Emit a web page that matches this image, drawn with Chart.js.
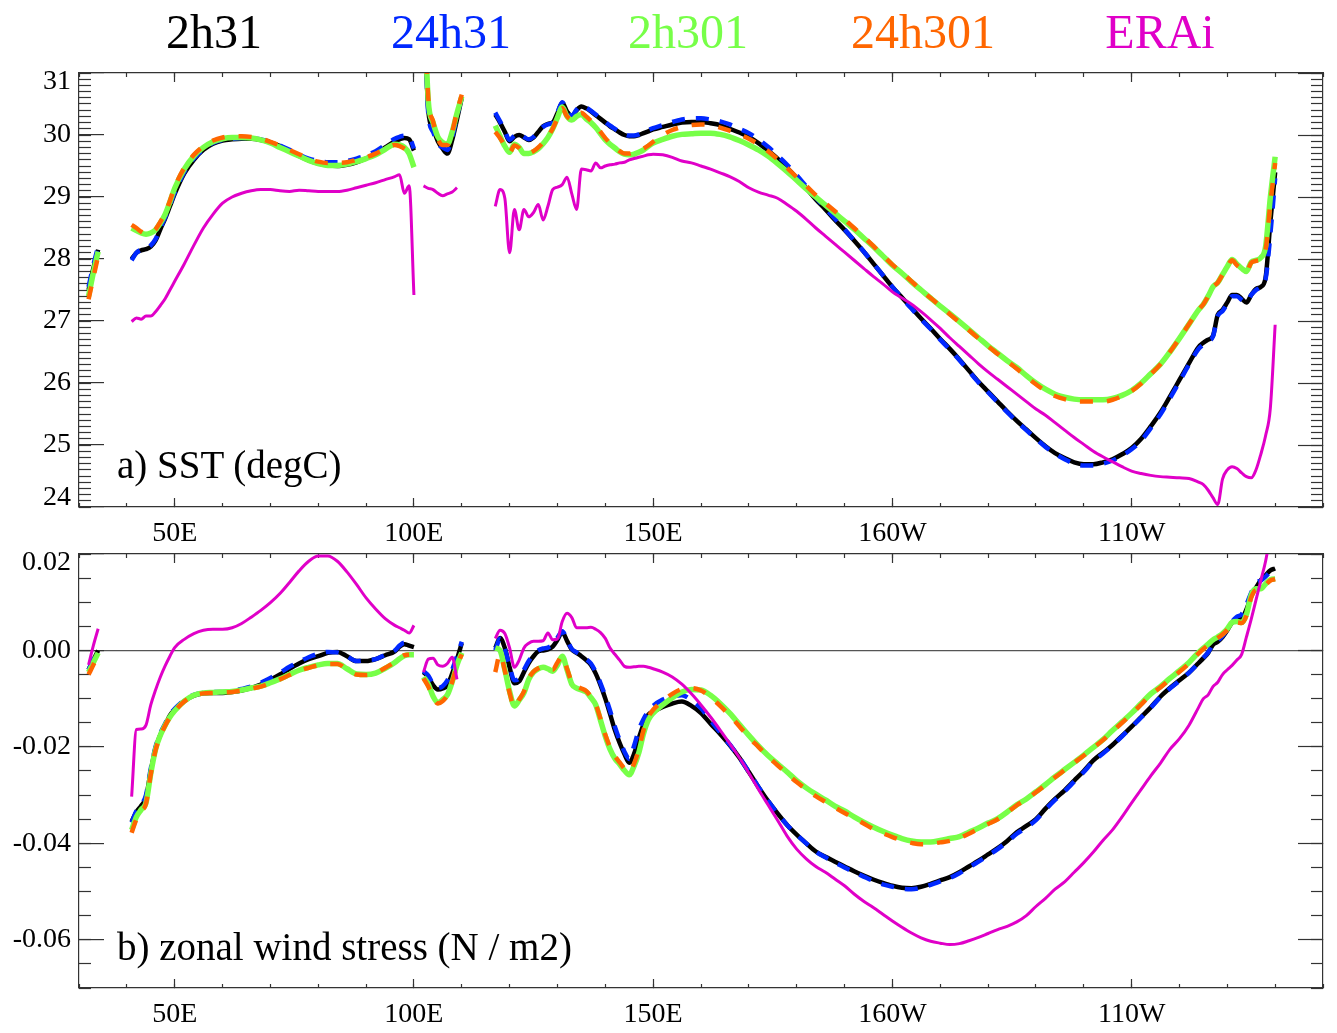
<!DOCTYPE html>
<html>
<head>
<meta charset="utf-8">
<title>SST and zonal wind stress along the equator</title>
<script src="https://cdn.jsdelivr.net/npm/chart.js@4.4.1/dist/chart.umd.min.js"></script>
<style>
  body { margin: 0; background: #fff; }
  #page { position: relative; width: 1337px; height: 1033px; overflow: hidden;
          font-family: "Liberation Serif", "Times New Roman", serif; }
  canvas { position: absolute; left: 0; }
  .key { position: absolute; top: 8px; font-size: 48px; line-height: 48px;
         transform: translateX(-50%); white-space: nowrap; }
  .tag { position: absolute; left: 117px; font-size: 39px; line-height: 39px;
         white-space: nowrap; color: #000; }
</style>
</head>
<body>
<div id="page">
  <canvas id="sst" width="1337" height="550" style="top:0"></canvas>
  <canvas id="taux" width="1337" height="483" style="top:550px"></canvas>
  <div class="tag" style="top:445px">a) SST (degC)</div>
  <div class="tag" style="top:927px">b) zonal wind stress (N / m2)</div>
  <div id="keys"></div>
</div>
<script>
// longitude (deg E); the null rows break the lines over land
var lon = [
  32, 33, 34, 35,
  41, 42, 43, 44, 45, 46, 47, 48, 49, 50,
  52, 54, 56, 58, 60, 62, 64, 66, 68, 70,
  72, 74, 76, 78, 80, 82, 84, 86, 88, 90,
  92, 94, 96, 97, 98, 99, 100, 101,
  102, 103, 104, 105, 106, 107, 108, 109, 110, 113,
  117, 118, 119, 120, 121, 122, 123, 124, 125, 126,
  127, 128, 129, 130, 131, 132, 133, 134, 135, 136,
  137, 138, 139, 140, 141, 142, 143, 144, 145, 146,
  147, 148, 149, 150,
  152, 154, 156, 158, 160, 162, 164, 166, 168, 170,
  172, 174, 176, 178, 180, 182, 184, 186, 188, 190,
  192, 194, 196, 198, 200, 202, 204, 206, 208, 210,
  212, 214, 216, 218, 220, 222, 224, 226, 228, 230,
  232, 234, 236, 238, 240, 242, 244, 246, 248, 250,
  252, 254, 256, 258, 260, 262, 264,
  265, 266, 267, 268, 269, 270, 271, 272, 273, 274, 275, 276, 277, 278, 279, 280
];

var runs = ['2h31', '24h31', '2h301', '24h301', 'ERAi'];

// SST (degC)
var sst2h31 = [
  27.5, 27.85, 28.15, null,
  28.0, 28.1, 28.14, 28.16, 28.2, 28.3, 28.48, 28.65, 28.85, 29.05,
  29.38, 29.6, 29.76, 29.86, 29.91, 29.93, 29.94, 29.94, 29.92, 29.88,
  29.82, 29.74, 29.66, 29.59, 29.54, 29.51, 29.5, 29.52, 29.56, 29.62,
  29.7, 29.8, 29.9, 29.93, 29.95, 29.93, 29.75, null,
  32.5, 30.4, 30.1, 29.9, 29.78, 29.7, 29.92, 30.25, 30.6, null,
  30.33, 30.2, 30.05, 29.9, 29.97, 30.0, 29.96, 29.92, 29.96, 30.05,
  30.14, 30.18, 30.2, 30.35, 30.52, 30.38, 30.3, 30.4, 30.46, 30.43,
  30.38, 30.32, 30.26, 30.2, 30.14, 30.09, 30.04, 30.0, 29.98, 29.98,
  30.0, 30.03, 30.06, 30.09,
  30.13, 30.17, 30.2, 30.21, 30.21, 30.19, 30.16, 30.1, 30.04, 29.97,
  29.87, 29.75, 29.62, 29.47, 29.31, 29.14, 28.96, 28.8, 28.63, 28.47,
  28.3, 28.12, 27.93, 27.74, 27.55, 27.38, 27.21, 27.04, 26.88, 26.71,
  26.55, 26.38, 26.2, 26.02, 25.86, 25.7, 25.54, 25.39, 25.25, 25.11,
  24.98, 24.87, 24.79, 24.72, 24.69, 24.69, 24.72, 24.77, 24.85, 24.95,
  25.1, 25.3, 25.52, 25.78, 26.05, 26.32, 26.58,
  26.65, 26.7, 26.76, 27.1, 27.18, 27.3, 27.42, 27.42, 27.36, 27.3, 27.42, 27.52, 27.55, 27.7, 28.6, 29.4
];
var sst24h31 = [
  27.55, 27.9, 28.2, null,
  27.98, 28.1, 28.15, 28.17, 28.22, 28.32, 28.5, 28.67, 28.87, 29.07,
  29.4, 29.62, 29.77, 29.87, 29.92, 29.94, 29.95, 29.95, 29.93, 29.89,
  29.83, 29.76, 29.68, 29.62, 29.58, 29.56, 29.56, 29.58, 29.62, 29.67,
  29.74, 29.84, 29.94, 29.97, 29.99, 29.97, 29.78, null,
  32.5, 30.35, 30.05, 29.86, 29.8, 29.76, 29.96, 30.3, 30.62, null,
  30.36, 30.22, 30.06, 29.92, 29.99, 30.02, 29.97, 29.93, 29.97, 30.06,
  30.13, 30.17, 30.2, 30.36, 30.53, 30.38, 30.31, 30.41, 30.47, 30.44,
  30.39, 30.33, 30.27, 30.21, 30.15, 30.1, 30.05, 30.01, 29.99, 29.99,
  30.01, 30.05, 30.08, 30.11,
  30.16, 30.21, 30.25, 30.27, 30.27, 30.25, 30.22, 30.17, 30.1, 30.03,
  29.93, 29.81, 29.67, 29.52, 29.35, 29.17, 28.99, 28.82, 28.65, 28.48,
  28.3, 28.12, 27.93, 27.74, 27.55, 27.37, 27.2, 27.03, 26.87, 26.7,
  26.54, 26.37, 26.19, 26.01, 25.85, 25.69, 25.53, 25.38, 25.24, 25.1,
  24.97, 24.86, 24.77, 24.7, 24.67, 24.67, 24.7, 24.75, 24.83, 24.93,
  25.07, 25.27, 25.49, 25.75, 26.02, 26.3, 26.55,
  26.62, 26.68, 26.75, 27.08, 27.16, 27.28, 27.4, 27.4, 27.34, 27.3, 27.42, 27.5, 27.55, 27.68, 28.4, 29.3
];
var sst2h301 = [
  27.4, 27.78, 28.12, null,
  28.5, 28.46, 28.42, 28.4, 28.42, 28.47, 28.58, 28.72, 28.92, 29.14,
  29.45, 29.66, 29.8, 29.89, 29.94, 29.96, 29.96, 29.95, 29.92, 29.87,
  29.8, 29.73, 29.66, 29.59, 29.54, 29.51, 29.51, 29.53, 29.57, 29.62,
  29.68, 29.77, 29.85, 29.84, 29.8, 29.7, 29.48, null,
  32.5, 30.55, 30.2, 29.97, 29.88, 29.85, 30.05, 30.35, 30.62, null,
  30.15, 29.98, 29.82, 29.72, 29.85, 29.8, 29.7, 29.7, 29.73, 29.78,
  29.86, 29.96, 30.1, 30.28, 30.45, 30.3, 30.24, 30.3, 30.33, 30.26,
  30.2, 30.12, 30.02, 29.92, 29.85, 29.79, 29.73, 29.69, 29.68, 29.69,
  29.72, 29.76, 29.82, 29.87,
  29.93, 29.98, 30.01, 30.02, 30.03, 30.03, 30.01, 29.97, 29.91, 29.84,
  29.76, 29.66, 29.54, 29.41, 29.27, 29.13, 29.0, 28.87, 28.74, 28.61,
  28.48, 28.34, 28.2, 28.05, 27.9, 27.77, 27.63, 27.5, 27.37, 27.24,
  27.12, 26.99, 26.86, 26.73, 26.6, 26.48, 26.36, 26.25, 26.12, 26.0,
  25.9, 25.82, 25.77, 25.74, 25.73, 25.73, 25.73, 25.75, 25.8, 25.88,
  26.0, 26.15, 26.3, 26.5, 26.72, 26.95, 27.18,
  27.27, 27.4, 27.55, 27.62, 27.75, 27.88, 27.99, 27.92, 27.85, 27.8, 27.95, 27.98, 28.02, 28.2, 29.0, 29.65
];
var sst24h301 = [
  27.35, 27.7, 28.05, null,
  28.55, 28.5, 28.44, 28.41, 28.43, 28.48, 28.6, 28.74, 28.94, 29.16,
  29.47, 29.68, 29.82, 29.91, 29.96, 29.98, 29.98, 29.97, 29.94, 29.89,
  29.83, 29.76, 29.69, 29.62, 29.57, 29.55, 29.55, 29.56, 29.6, 29.64,
  29.7, 29.78, 29.84, 29.82, 29.78, 29.72, 29.62, null,
  32.5, 30.6, 30.22, 29.94, 29.84, 29.84, 30.05, 30.38, 30.65, null,
  30.05, 29.95, 29.83, 29.72, 29.83, 29.79, 29.71, 29.71, 29.74, 29.8,
  29.88, 29.98, 30.1, 30.27, 30.43, 30.3, 30.25, 30.32, 30.36, 30.3,
  30.23, 30.15, 30.05, 29.95, 29.87, 29.8, 29.74, 29.7, 29.7, 29.72,
  29.74, 29.78, 29.83, 29.89,
  30.0, 30.08, 30.13, 30.16, 30.17, 30.16, 30.12, 30.07, 30.01, 29.94,
  29.85, 29.74, 29.61, 29.47, 29.32, 29.18, 29.03, 28.9, 28.77, 28.64,
  28.5, 28.36, 28.21, 28.06, 27.91, 27.78, 27.64, 27.5, 27.37, 27.24,
  27.11, 26.98, 26.85, 26.72, 26.59, 26.47, 26.35, 26.23, 26.1, 25.98,
  25.87, 25.79, 25.74, 25.71, 25.7, 25.7, 25.7, 25.73, 25.79, 25.87,
  25.99, 26.14, 26.3, 26.5, 26.72, 26.95, 27.18,
  27.27, 27.4, 27.55, 27.62, 27.75, 27.88, 27.98, 27.9, 27.84, 27.8, 27.94, 27.97, 28.0, 28.15, 28.9, 29.55
];
var sstERAi = [
  null, null, null, null,
  26.99, 27.05, 27.03, 27.08, 27.08, 27.15, 27.25, 27.36, 27.5, 27.64,
  27.92, 28.22, 28.5, 28.72, 28.9, 29.0, 29.06, 29.1, 29.12, 29.12,
  29.1, 29.09, 29.11, 29.1, 29.09, 29.09, 29.09, 29.11, 29.15, 29.19,
  29.23, 29.28, 29.33, 29.36, 29.06, 29.18, 27.42, null,
  29.18, 29.14, 29.12, 29.06, 29.02, 29.05, 29.08, 29.15, null, null,
  28.85, 29.12, 28.98, 28.1, 28.8, 28.47, 28.8, 28.68, 28.75, 28.88,
  28.63, 28.85, 29.12, 29.16, 29.2, 29.32, 29.05, 28.8, 29.45, 29.44,
  29.42, 29.55, 29.47, 29.5, 29.52, 29.53, 29.55, 29.56, 29.6, 29.62,
  29.64, 29.66, 29.68, 29.69,
  29.68, 29.64, 29.58, 29.55, 29.5, 29.45, 29.39, 29.33, 29.25, 29.15,
  29.08, 29.03, 28.98, 28.88, 28.77, 28.64, 28.5, 28.37, 28.24, 28.11,
  27.98, 27.85, 27.72, 27.6, 27.47, 27.37, 27.27, 27.15, 27.02, 26.88,
  26.73, 26.59, 26.45, 26.31, 26.18, 26.06, 25.94, 25.82, 25.7, 25.58,
  25.48, 25.36, 25.24, 25.12, 25.01, 24.9, 24.81, 24.73, 24.65, 24.58,
  24.54, 24.51, 24.49, 24.48, 24.47, 24.46, 24.4,
  24.36, 24.27, 24.15, 24.04, 24.45, 24.6, 24.65, 24.62, 24.55, 24.49, 24.47, 24.6, 24.85, 25.15, 25.6, 26.94
];

// zonal wind stress (N/m2)
var tau2h31 = [
  -0.004, -0.002, 0.0, null,
  -0.0355, -0.0335, -0.0322, -0.0305, -0.025, -0.0203, -0.0175, -0.0155, -0.0135, -0.0123,
  -0.0105, -0.0094, -0.0089, -0.0088, -0.0088, -0.0086, -0.0083, -0.0078, -0.0071, -0.0061,
  -0.005, -0.0038, -0.0027, -0.0018, -0.0012, -0.0005, -0.0003, -0.0012, -0.0022, -0.0022,
  -0.0018, -0.001, -0.0002, 0.0008, 0.0013, 0.001, 0.0007, null,
  -0.0045, -0.0055, -0.0072, -0.0081, -0.0079, -0.0072, -0.0048, -0.0018, 0.0015, null,
  0.0005, 0.0026, 0.0005, -0.0035, -0.0068, -0.0064, -0.0045, -0.0026, -0.0012, -0.0002,
  0.0, 0.0002, 0.0008, 0.0022, 0.0038, 0.002, 0.0002, -0.0005, -0.0012, -0.002,
  -0.003, -0.0048, -0.0072, -0.01, -0.0132, -0.0165, -0.0192, -0.0215, -0.0233, -0.0215,
  -0.0182, -0.0153, -0.0133, -0.0127,
  -0.0117, -0.011, -0.0106, -0.0115, -0.013, -0.0152, -0.0173, -0.0196, -0.0222, -0.0252,
  -0.0283, -0.0312, -0.0338, -0.0362, -0.0382, -0.04, -0.0417, -0.0428, -0.0438, -0.0448,
  -0.0458, -0.0467, -0.0475, -0.0482, -0.0488, -0.0492, -0.0493, -0.049, -0.0484, -0.0477,
  -0.047, -0.046, -0.0448, -0.0436, -0.0423, -0.041, -0.0395, -0.0377, -0.0364, -0.035,
  -0.0328, -0.0308, -0.029, -0.027, -0.025, -0.0228, -0.0212, -0.0196, -0.0177, -0.0158,
  -0.0138, -0.0118, -0.0096, -0.0078, -0.0062, -0.0046, -0.0026,
  -0.0016, -0.0005, 0.0012, 0.0018, 0.0028, 0.0042, 0.0058, 0.0066, 0.0067, 0.0085, 0.0112, 0.013, 0.0146, 0.0156, 0.0166, 0.017
];
var tau24h31 = [
  -0.004, -0.0018, -0.0002, null,
  -0.0357, -0.0333, -0.032, -0.03, -0.0245, -0.02, -0.0172, -0.0152, -0.0133, -0.0121,
  -0.0103, -0.0092, -0.0088, -0.0086, -0.0086, -0.0084, -0.008, -0.0075, -0.0067, -0.0057,
  -0.0046, -0.0034, -0.0024, -0.0014, -0.0007, -0.0003, -0.0004, -0.0012, -0.0022, -0.002,
  -0.0018, -0.0009, 0.0, 0.001, 0.0016, 0.0012, 0.0008, null,
  -0.0043, -0.0052, -0.007, -0.0078, -0.0074, -0.0062, -0.004, -0.0012, 0.0018, null,
  0.0, 0.0024, 0.0003, -0.0033, -0.0062, -0.0058, -0.004, -0.0022, -0.0008, 0.0,
  0.0004, 0.0006, 0.0012, 0.0026, 0.004, 0.0022, 0.0003, -0.0004, -0.001, -0.0018,
  -0.0027, -0.0045, -0.0068, -0.0095, -0.0125, -0.0158, -0.0186, -0.021, -0.0225, -0.0198,
  -0.0165, -0.0142, -0.0126, -0.0115,
  -0.0102, -0.0095, -0.0093, -0.0103, -0.012, -0.0145, -0.017, -0.0195, -0.0222, -0.0252,
  -0.0283, -0.0312, -0.0338, -0.0362, -0.0382, -0.04, -0.0417, -0.0429, -0.044, -0.045,
  -0.046, -0.0469, -0.0478, -0.0485, -0.049, -0.0494, -0.0495, -0.0492, -0.0486, -0.0479,
  -0.0472, -0.0462, -0.045, -0.0438, -0.0425, -0.0412, -0.0397, -0.038, -0.0367, -0.0352,
  -0.033, -0.031, -0.0292, -0.0272, -0.0252, -0.023, -0.0214, -0.0197, -0.0178, -0.0159,
  -0.0139, -0.0119, -0.0097, -0.0079, -0.0063, -0.0046, -0.0026,
  -0.0015, -0.0004, 0.0013, 0.002, 0.003, 0.0044, 0.006, 0.007, 0.0075, 0.0095, 0.012, 0.014, 0.0145, 0.0153, 0.0163, 0.0168
];
var tau2h301 = [
  -0.0045, -0.0025, -0.0005, null,
  -0.0372, -0.0345, -0.033, -0.0316, -0.0255, -0.0205, -0.0176, -0.0155, -0.0138, -0.0125,
  -0.0105, -0.0093, -0.0088, -0.0087, -0.0086, -0.0085, -0.0082, -0.0078, -0.0074, -0.0067,
  -0.0059, -0.005, -0.0041, -0.0035, -0.003, -0.0027, -0.0027, -0.0038, -0.0049, -0.005,
  -0.0047, -0.0037, -0.0025, -0.0017, -0.0011, -0.0009, -0.0009, null,
  -0.0055, -0.007, -0.0095, -0.0108, -0.0102, -0.0092, -0.0065, -0.003, -0.0005, null,
  0.0005, 0.0, -0.004, -0.0085, -0.0115, -0.0103, -0.0088, -0.006, -0.0045, -0.0038,
  -0.0035, -0.0038, -0.0043, -0.003, -0.0012, -0.004, -0.007, -0.0078, -0.0082, -0.0086,
  -0.0098, -0.0113, -0.0145, -0.0178, -0.0205, -0.0224, -0.0236, -0.0249, -0.0258, -0.024,
  -0.0212, -0.0172, -0.0144, -0.013,
  -0.0113, -0.0098, -0.0086, -0.0081, -0.0082, -0.0093, -0.011, -0.013, -0.0153, -0.0176,
  -0.0198, -0.0218, -0.0235, -0.0252, -0.027, -0.0285, -0.0298, -0.031, -0.0323, -0.0333,
  -0.0345, -0.0356, -0.0366, -0.0375, -0.0383, -0.039, -0.0395, -0.0397, -0.0397, -0.0394,
  -0.039, -0.0386, -0.0377, -0.0368, -0.0358, -0.0349, -0.0335, -0.032, -0.0308, -0.0293,
  -0.0278, -0.0262, -0.0247, -0.0232, -0.0217, -0.0201, -0.0185, -0.0166, -0.0148, -0.013,
  -0.011, -0.009, -0.0075, -0.0058, -0.0042, -0.0025, -0.0004,
  0.0005, 0.0013, 0.0022, 0.0028, 0.0035, 0.0045, 0.0058, 0.006, 0.0058, 0.0075, 0.0115, 0.0128, 0.0128, 0.0138, 0.0147, 0.0148
];
var tau24h301 = [
  -0.005, -0.003, -0.0008, null,
  -0.0378, -0.035, -0.0333, -0.0318, -0.0257, -0.0207, -0.0178, -0.0156, -0.0139, -0.0126,
  -0.0106, -0.0094, -0.0089, -0.0088, -0.0087, -0.0086, -0.0083, -0.0079, -0.0075, -0.0068,
  -0.006, -0.0051, -0.0042, -0.0036, -0.0031, -0.0028, -0.0028, -0.0039, -0.005, -0.0051,
  -0.0047, -0.0036, -0.0024, -0.0016, -0.001, -0.0009, null, null,
  -0.0058, -0.0075, -0.0098, -0.011, -0.0105, -0.0092, -0.0065, -0.0032, -0.0008, null,
  -0.0045, -0.0008, -0.0042, -0.0088, -0.0117, -0.0102, -0.0085, -0.0058, -0.0044, -0.0037,
  -0.0034, -0.0036, -0.004, -0.0025, -0.0012, -0.0038, -0.0066, -0.0074, -0.0079, -0.0084,
  -0.0096, -0.0112, -0.0142, -0.0175, -0.0201, -0.0219, -0.0232, -0.0245, -0.0252, -0.0235,
  -0.0205, -0.0165, -0.0138, -0.0123,
  -0.0105, -0.009, -0.008, -0.0078, -0.0083, -0.0097, -0.0115, -0.0135, -0.0157, -0.018,
  -0.02, -0.022, -0.0238, -0.0256, -0.0273, -0.0288, -0.0302, -0.0314, -0.0326, -0.0337,
  -0.0348, -0.0359, -0.037, -0.0379, -0.0387, -0.0394, -0.0399, -0.0402, -0.0401, -0.0398,
  -0.0395, -0.0389, -0.038, -0.037, -0.036, -0.035, -0.0336, -0.0321, -0.0309, -0.0294,
  -0.0279, -0.0263, -0.0248, -0.0233, -0.0218, -0.0202, -0.0186, -0.0168, -0.015, -0.0132,
  -0.0112, -0.0092, -0.0077, -0.006, -0.0044, -0.0027, -0.0006,
  0.0003, 0.0011, 0.002, 0.0026, 0.0033, 0.0043, 0.0056, 0.0058, 0.0057, 0.0072, 0.011, 0.0125, 0.0126, 0.0136, 0.0145, 0.0148
];
var tauERAi = [
  -0.003, 0.001, 0.0045, null,
  -0.0303, -0.0164, -0.0163, -0.0155, -0.0113, -0.0082, -0.0055, -0.0032, -0.0012, 0.0006,
  0.0023, 0.0035, 0.0042, 0.0044, 0.0044, 0.0047, 0.0056, 0.0069, 0.0083, 0.0099,
  0.0118, 0.0141, 0.0165, 0.0185, 0.0196, 0.0196, 0.0185, 0.0163, 0.0137, 0.0109,
  0.0086, 0.0066, 0.0052, 0.0047, 0.0042, 0.0036, 0.0052, null,
  -0.0045, -0.0018, -0.0016, -0.003, -0.0033, -0.0027, -0.0014, -0.006, null, null,
  0.0025, 0.0042, 0.0035, 0.0005, -0.0035, -0.002, 0.0005, 0.0015, 0.0019, 0.0019,
  0.002, 0.0036, 0.0022, 0.0024, 0.006, 0.0077, 0.0068, 0.0047, 0.0047, 0.0047,
  0.0048, 0.0044, 0.0037, 0.0025, 0.0005, -0.0008, -0.002, -0.0033, -0.0035, -0.0034,
  -0.0033, -0.0033, -0.0035, -0.0038,
  -0.0045, -0.0055, -0.007, -0.009, -0.0113, -0.0138, -0.0165, -0.0193, -0.0222, -0.0254,
  -0.0288, -0.032, -0.0352, -0.0385, -0.0412, -0.0432, -0.0448, -0.046, -0.0474, -0.0488,
  -0.0505, -0.052, -0.0533, -0.0547, -0.0561, -0.0574, -0.0586, -0.0596, -0.0603, -0.0607,
  -0.061, -0.0608, -0.0602, -0.0595, -0.0587, -0.0579, -0.0572, -0.0563, -0.055, -0.0531,
  -0.0514, -0.0495, -0.048, -0.046, -0.044, -0.0418, -0.0394, -0.0372, -0.0345, -0.0316,
  -0.0288, -0.026, -0.0234, -0.0205, -0.0183, -0.0155, -0.0118,
  -0.01, -0.0092, -0.0075, -0.0066, -0.005, -0.004, -0.0031, -0.002, -0.0008, 0.0028, 0.0065, 0.0105, 0.0145, 0.0185, 0.024, null
];

// axes
var lonTicks = [50, 100, 150, 200, 250];
var lonLabels = ['50E', '100E', '150E', '160W', '110W'];
var sstTicks = [24, 25, 26, 27, 28, 29, 30, 31];
var tauTicks = [-0.06, -0.04, -0.02, 0, 0.02];

// ---- look ----
var look = [
  { color: '#000000', width: 4.5, dash: [],       order: 5 },
  { color: '#0028ff', width: 4.5, dash: [13, 11], order: 4 },
  { color: '#77ff48', width: 5.5, dash: [],       order: 3 },
  { color: '#ff6600', width: 4.5, dash: [13, 14], order: 2 },
  { color: '#e000c8', width: 3,   dash: [],       order: 1 }
];
var keyX = [214, 451, 688, 923, 1160];
var family = 'Liberation Serif';
var ink = '#333333';

Chart.defaults.font.family = family;

[sst2h31, sst24h31, sst2h301, sst24h301, sstERAi,
 tau2h31, tau24h31, tau2h301, tau24h301, tauERAi].forEach(function (a, i) {
  if (a.length !== lon.length) throw new Error('series ' + i + ' has ' + a.length + ' values, lon has ' + lon.length);
});

// legend row
var keys = document.getElementById('keys');
runs.forEach(function (name, k) {
  var s = document.createElement('span');
  s.className = 'key';
  s.style.left = keyX[k] + 'px';
  s.style.color = look[k].color;
  s.textContent = name;
  keys.appendChild(s);
});

function fixed(vals) {
  return function (scale) {
    scale.ticks = vals.map(function (v) { return { value: v }; });
  };
}

// force an axis box size and drop the label overhang padding chart.js asks for
function box(w, h) {
  return function (a) {
    if (w !== null) a.width = w;
    if (h !== null) a.height = h;
    a.paddingTop = 0; a.paddingBottom = 0; a.paddingLeft = 0; a.paddingRight = 0;
  };
}

function lines(series) {
  return series.map(function (vals, k) {
    return {
      label: runs[k],
      data: lon.map(function (x, i) { return { x: x, y: vals[i] }; }),
      xAxisID: 'x',
      yAxisID: 'y',
      borderColor: look[k].color,
      borderWidth: look[k].width,
      borderDash: look[k].dash,
      borderCapStyle: 'butt',
      pointRadius: 0,
      fill: false,
      cubicInterpolationMode: 'monotone',
      order: look[k].order
    };
  });
}

function scales(p) {
  var tickLine = function (len) {
    return { drawOnChartArea: false, tickLength: len, tickColor: ink, tickWidth: 1.2 };
  };
  var frame = { display: true, color: ink, width: 1.2 };
  var yLabel = function (v) {
    var t = p.fmt(v);
    if (v === p.max) return ['', t];
    if (v === p.min) return [t, ''];
    return t;
  };
  return {
    x: {
      type: 'linear', position: 'bottom', weight: 1, min: 30, max: 290,
      afterBuildTicks: fixed(lonTicks),
      afterFit: box(null, p.xHeight),
      grid: tickLine(-9),
      border: frame,
      ticks: {
        color: '#000', font: { family: family, size: 28 }, padding: 19,
        autoSkip: false, maxRotation: 0,
        callback: function (v) { return lonLabels[lonTicks.indexOf(v)]; }
      }
    },
    xm: {
      type: 'linear', position: 'bottom', weight: 0, min: 30, max: 290,
      afterFit: box(null, 0),
      grid: tickLine(-4), border: { display: false },
      ticks: { display: false, stepSize: 10 }
    },
    xt: {
      type: 'linear', position: 'top', weight: 1, min: 30, max: 290,
      afterBuildTicks: fixed(lonTicks),
      afterFit: box(null, 0),
      grid: tickLine(-9), border: frame,
      ticks: { display: false }
    },
    xtm: {
      type: 'linear', position: 'top', weight: 0, min: 30, max: 290,
      afterFit: box(null, 0),
      grid: tickLine(-4), border: { display: false },
      ticks: { display: false, stepSize: 10 }
    },
    y: {
      type: 'linear', position: 'left', weight: 1, min: p.min, max: p.max,
      afterBuildTicks: fixed(p.ticks),
      afterFit: box(79, null),
      grid: {
        drawOnChartArea: p.zero,
        color: function (c) { return c.tick && c.tick.value === 0 ? '#555555' : 'rgba(0,0,0,0)'; },
        lineWidth: 1.2, tickLength: -25, tickColor: ink, tickWidth: 1.2
      },
      border: frame,
      ticks: {
        color: '#000', font: { family: family, size: 28, lineHeight: '18px' },
        padding: 33, callback: yLabel
      }
    },
    ym: {
      type: 'linear', position: 'left', weight: 0, min: p.min, max: p.max,
      afterFit: box(0, null),
      grid: tickLine(-12), border: { display: false },
      ticks: { display: false, stepSize: p.minor }
    },
    yr: {
      type: 'linear', position: 'right', weight: 1, min: p.min, max: p.max,
      afterBuildTicks: fixed(p.ticks),
      afterFit: box(0, null),
      grid: tickLine(-25), border: frame,
      ticks: { display: false }
    },
    yrm: {
      type: 'linear', position: 'right', weight: 0, min: p.min, max: p.max,
      afterFit: box(0, null),
      grid: tickLine(-12), border: { display: false },
      ticks: { display: false, stepSize: p.minor }
    }
  };
}

function panel(id, series, p) {
  return new Chart(document.getElementById(id), {
    type: 'line',
    data: { datasets: lines(series) },
    options: {
      responsive: false,
      animation: false,
      devicePixelRatio: 1,
      events: [],
      layout: { padding: { left: 0, right: 14, top: p.top, bottom: 0 } },
      plugins: { legend: { display: false }, tooltip: { enabled: false } },
      scales: scales(p)
    }
  });
}

panel('sst', [sst2h31, sst24h31, sst2h301, sst24h301, sstERAi], {
  min: 24, max: 31, ticks: sstTicks, minor: 0.1, top: 73, xHeight: 43, zero: false,
  fmt: function (v) { return String(v); }
});

panel('taux', [tau2h31, tau24h31, tau2h301, tau24h301, tauERAi], {
  min: -0.07, max: 0.02, ticks: tauTicks, minor: 0.005, top: 4, xHeight: 45, zero: true,
  fmt: function (v) { return v.toFixed(2); }
});
</script>
</body>
</html>
